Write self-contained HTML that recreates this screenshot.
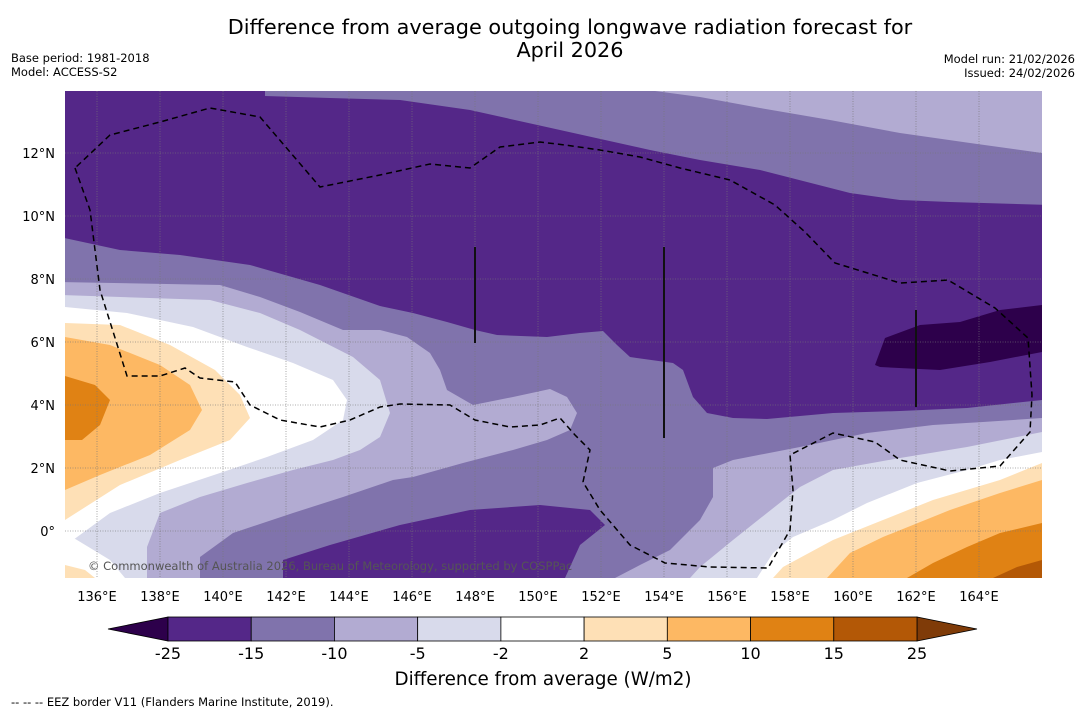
<!DOCTYPE html>
<html><head><meta charset="utf-8">
<style>
body{margin:0;background:#fff;width:1085px;height:713px;overflow:hidden;font-family:"Liberation Sans","DejaVu Sans",sans-serif;}
svg{position:absolute;left:0;top:0}
text{font-family:"DejaVu Sans","Liberation Sans",sans-serif}
</style></head>
<body>
<svg id="s" width="1085" height="713" viewBox="0 0 1085 713">
<text x="570" y="34" font-size="20.8" text-anchor="middle">Difference from average outgoing longwave radiation forecast for</text>
<text x="570" y="57" font-size="20.8" text-anchor="middle">April 2026</text>
<text x="11" y="62" font-size="11.5">Base period: 1981-2018</text>
<text x="11" y="76" font-size="11.5">Model: ACCESS-S2</text>
<text x="1075" y="63" font-size="11.5" text-anchor="end">Model run: 21/02/2026</text>
<text x="1075" y="77" font-size="11.5" text-anchor="end">Issued: 24/02/2026</text>
<defs><clipPath id="mc"><rect x="65" y="91" width="977" height="487"/></clipPath></defs>
<g clip-path="url(#mc)">
<rect x="65" y="91" width="977" height="487" fill="#d8daeb"/>
<path fill="#fff" d="M65,307 L127,313 193,327 247,347 293,363 333,380 347,400 343,420 313,440 267,457 220,473 160,493 110,513 73,540 60,578 Z"/>
<path fill="#fff" d="M60,530 L77,540 110,560 125,578 60,578 Z"/>
<path fill="#fff" d="M1042,452 L1000,460 967,470 917,483 867,503 833,520 793,537 773,553 757,578 1050,578 Z"/>
<path fill="#fee0b6" d="M65,323 L120,325 170,345 215,370 240,395 250,418 230,440 180,460 120,485 65,520 Z"/>
<path fill="#fee0b6" d="M65,565 L85,570 95,578 65,578 Z"/>
<path fill="#fdb863" d="M65,337 L110,345 160,365 190,385 202,410 190,430 150,455 100,475 65,490 Z"/>
<path fill="#e08214" d="M65,376 L95,385 110,400 100,425 82,440 65,440 Z"/>
<path fill="#fee0b6" d="M1042,463 L1000,480 933,500 883,520 833,540 783,567 773,578 1050,578 Z"/>
<path fill="#fdb863" d="M1042,480 L1000,493 950,510 883,537 850,553 827,578 1050,578 Z"/>
<path fill="#e08214" d="M1042,523 L1000,533 967,547 933,563 907,578 1050,578 Z"/>
<path fill="#b35806" d="M1042,560 L1017,567 993,578 1050,578 Z"/>
<path fill="#b2abd2" d="M60,85 L1050,85 1050,432 1042,432 967,447 900,458 833,470 800,487 767,513 733,540 700,567 690,578 147,578 147,547 160,513 200,497 247,483 293,470 333,460 360,450 380,437 390,413 380,380 353,357 300,330 260,313 210,300 60,295 Z"/>
<path fill="#8073ac" d="M60,85 L1050,85 1050,418 1042,418 983,422 933,425 867,433 800,447 733,460 713,468 713,497 700,520 670,550 640,565 615,578 200,578 200,557 233,533 293,513 343,497 393,480 413,477 463,463 513,450 547,440 570,430 577,413 567,397 550,389 513,397 473,405 447,390 440,370 430,353 407,337 380,330 343,330 300,312 260,297 220,285 60,282 Z"/>
<path fill="#b2abd2" d="M655,85 L1050,85 1050,153 1042,153 970,143 900,133 830,120 760,108 700,97 655,91 Z"/>
<path fill="#542788" d="M60,85 L265,85 265,96 330,98 400,100 470,110 560,130 650,150 700,160 760,170 850,193 900,200 950,202 1050,205 1050,400 1042,400 967,408 900,411 833,413 767,419 733,418 707,413 693,397 683,370 673,363 630,357 617,345 603,331 580,333 547,337 497,335 475,330 447,322 413,313 380,306 320,285 250,265 180,255 120,250 60,237 Z"/>
<path fill="#542788" d="M283,578 L283,560 330,545 400,525 470,510 540,505 590,510 605,525 580,545 565,578 Z"/>
<path fill="#2d004b" d="M875,365 L885,338 920,325 960,322 1000,310 1042,305 1050,305 1050,352 1042,352 990,362 940,370 880,367 Z"/>
<g id="grid" stroke="#777" stroke-width="0.8" stroke-dasharray="1,1.5" opacity="0.8"></g>
<g stroke="#111" stroke-width="2">
<line x1="475" y1="247" x2="475" y2="343"/>
<line x1="664" y1="247" x2="664" y2="438"/>
<line x1="916" y1="310" x2="916" y2="407"/>
</g>
<path fill="none" stroke="#000" stroke-width="1.5" stroke-dasharray="6,4" d="M75,168 L90,210 100,290 127,376 160,376 185,368 200,378 235,382 250,405 280,420 320,427 350,420 380,407 400,404 450,405 475,420 510,427 540,425 560,418 575,435 590,450 583,482 600,510 630,545 665,563 710,567 768,568 790,530 793,490 790,455 833,433 875,442 900,460 950,471 1000,466 1030,432 1032,395 1028,338 995,308 948,280 900,283 835,263 805,232 775,205 730,180 680,168 640,157 600,150 565,145 540,142 500,147 470,168 430,164 380,175 320,187 260,117 210,108 160,122 110,135 75,168 Z"/>
<text x="88" y="570" font-size="11.5" fill="#555">© Commonwealth of Australia 2026, Bureau of Meteorology, supported by COSPPac</text>
</g>
<g id="axes"></g>
<g id="cbar"></g>
<text x="543" y="685" font-size="18.3" text-anchor="middle">Difference from average (W/m2)</text>
<text x="11" y="706" font-size="11.5">--  --  -- EEZ border V11 (Flanders Marine Institute, 2019).</text>
</svg>
<script>
const lonTicks=[136,138,140,142,144,146,148,150,152,154,156,158,160,162,164];
const latTicks=[0,2,4,6,8,10,12];
const cbLevels=["-25","-15","-10","-5","-2","2","5","10","15","25"];
const cbColors=["#542788","#8073ac","#b2abd2","#d8daeb","#ffffff","#fee0b6","#fdb863","#e08214","#b35806"];
const cbLow="#2d004b", cbHigh="#7f3b08";
const NS="http://www.w3.org/2000/svg";
const xLon=l=>65.5+(l-135)*31.5;
const yLat=l=>531-l*31.5;
const grid=document.getElementById('grid'), axes=document.getElementById('axes'), cb=document.getElementById('cbar');
function mk(tag,at,parent){const e=document.createElementNS(NS,tag);for(const k in at)e.setAttribute(k,at[k]);parent.appendChild(e);return e;}
lonTicks.forEach(l=>{
  const x=xLon(l);
  const g=mk('line',{x1:x,y1:91,x2:x,y2:578},grid);
  
  
  const t=mk('text',{x:x,y:601,'font-size':13,'text-anchor':'middle'},axes);
  t.textContent=l+'°E';
  
  
});
latTicks.forEach(l=>{
  const y=yLat(l);
  const g=mk('line',{x1:65,y1:y,x2:1042,y2:y},grid);
  
  
  const t=mk('text',{x:55,y:y+5,'font-size':13,'text-anchor':'end'},axes);
  t.textContent=l===0?'0°':l+'°N';
  
  
});
const x0=168,x1=917,y0=617,h=24,w=(x1-x0)/cbColors.length;
const lt=mk('polygon',{points:`108,${y0+h/2} ${x0},${y0} ${x0},${y0+h}`,fill:cbLow,stroke:'#000','stroke-width':0.8},cb);


const rt=mk('polygon',{points:`977,${y0+h/2} ${x1},${y0} ${x1},${y0+h}`,fill:cbHigh,stroke:'#000','stroke-width':0.8},cb);


cbColors.forEach((c,i)=>{
  const r=mk('rect',{x:x0+i*w,y:y0,width:w,height:h,fill:c,stroke:'#000','stroke-width':0.8},cb);
  
  
});
cbLevels.forEach((v,i)=>{
  const t=mk('text',{x:x0+i*w,y:659,'font-size':16,'text-anchor':'middle'},cb);
  t.textContent=v;
  
  
});
</script>
</body></html>
